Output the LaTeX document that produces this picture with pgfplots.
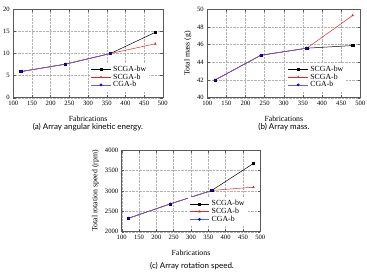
\documentclass[border=0pt]{standalone}
\usepackage{fontspec}
\setmainfont{Liberation Serif}
\newfontfamily\capfont{Lato}
\usepackage{pgfplots}
\pgfplotsset{compat=1.18}

\definecolor{bwcol}{RGB}{0,0,0}
\definecolor{bcol}{RGB}{230,40,40}
\definecolor{cgacol}{RGB}{40,40,235}

\pgfplotsset{
  fabstyle/.style={
    scale only axis,
    anchor=south west,
    xmin=100, xmax=500,
    xtick={100,150,...,500},
    grid=major,
    major grid style={densely dotted, gray!60},
    tick align=inside,
    major tick length=2.5pt,
    axis line style={gray!70!black, line width=0.5pt},
    tick style={gray!70!black, line width=0.4pt},
    tick label style={font=\fontsize{6.6}{6.6}\selectfont},
    /pgf/number format/assume math mode=true,
    /pgf/number format/1000 sep={},
    label style={font=\fontsize{7.8}{8}\selectfont},
    xlabel={Fabrications},
    xlabel style={yshift=-4pt},
    legend style={draw=none, fill=white, inner sep=1pt,
      font=\fontsize{7.8}{7.8}\selectfont, row sep=-3.2pt,
      legend cell align=left},
    legend image code/.code={
      \draw[mark repeat=2,mark phase=2] plot coordinates {(0cm,0cm) (0.35cm,0cm) (0.7cm,0cm)};},
    legend image post style={line width=0.5pt},
    every axis plot/.append style={line width=0.5pt, mark size=1.1pt},
  },
  bwline/.style={color=bwcol, mark=square*, mark options={fill=black}},
  bline/.style={color=bcol, mark=triangle*, mark size=1.0pt, mark options={fill=bcol}},
  cgaline/.style={color=cgacol!75!white, mark=*, mark options={fill=blue, draw=blue}},
}

\begin{document}
\begin{tikzpicture}
\useasboundingbox (0,0) rectangle (367pt,-273pt);

% (a) kinetic energy
\begin{axis}[fabstyle,
  at={(13.3pt,-97.7pt)}, width=149.5pt, height=88.4pt,
  ymin=0, ymax=20, ytick={0,5,...,20},
  legend style={at={(0.91,0.07)}, anchor=south east},
]
\addplot[bwline] coordinates {(120,5.9) (240,7.6) (360,10.0) (480,14.8)};
\addlegendentry{SCGA-bw}
\addplot[bline] coordinates {(120,5.9) (240,7.6) (360,10.0) (480,12.2)};
\addlegendentry{SCGA-b}
\addplot[cgaline] coordinates {(120,5.9) (240,7.6) (360,10.0)};
\addlegendentry{CGA-b}
\end{axis}
\node[font=\capfont\fontsize{8}{8}\selectfont] at (88pt,-127pt) {(a) Array angular kinetic energy.};

% (b) mass
\begin{axis}[fabstyle,
  at={(207.3pt,-97.7pt)}, width=153pt, height=88.4pt,
  ymin=40, ymax=50, ytick={40,42,...,50},
  ylabel={Total mass (g)}, ylabel style={yshift=-1pt},
  legend style={at={(0.91,0.07)}, anchor=south east},
]
\addplot[bwline] coordinates {(120,42.0) (240,44.8) (360,45.6) (480,45.9)};
\addlegendentry{SCGA-bw}
\addplot[bline] coordinates {(120,42.0) (240,44.8) (360,45.6) (480,49.3)};
\addlegendentry{SCGA-b}
\addplot[cgaline] coordinates {(120,42.0) (240,44.8) (360,45.6)};
\addlegendentry{CGA-b}
\end{axis}
\node[font=\capfont\fontsize{8}{8}\selectfont] at (284pt,-127pt) {(b) Array mass.};

% (c) rotation speed
\begin{axis}[fabstyle,
  at={(121.7pt,-231.7pt)}, width=138.6pt, height=81.7pt,
  ymin=2000, ymax=4000, ytick={2000,2500,...,4000},
  ylabel={Total rotation speed (rpm)}, ylabel style={yshift=-1pt},
  legend style={at={(0.91,0.07)}, anchor=south east},
]
\addplot[bwline] coordinates {(120,2330) (240,2680) (360,3010) (480,3670)};
\addlegendentry{SCGA-bw}
\addplot[bline] coordinates {(120,2330) (240,2680) (360,3010) (480,3090)};
\addlegendentry{SCGA-b}
\addplot[cgaline] coordinates {(120,2330) (240,2680) (360,3010)};
\addlegendentry{CGA-b}
\end{axis}
\node[font=\capfont\fontsize{8}{8}\selectfont] at (192pt,-266pt) {(c) Array rotation speed.};
\end{tikzpicture}
\end{document}
